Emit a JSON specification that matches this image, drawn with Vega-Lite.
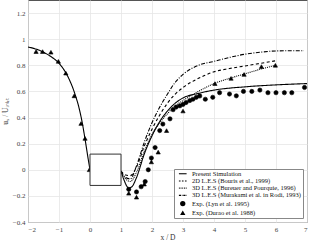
{
  "$schema": "https://vega.github.io/schema/vega-lite/v6.json",
  "width": 279,
  "height": 222,
  "autosize": {"type": "none"},
  "padding": {"left": 28, "top": 0, "right": 4, "bottom": 20},
  "background": "white",
  "config": {
    "font": "Liberation Serif",
    "view": {"stroke": "#555", "strokeWidth": 1},
    "axis": {
      "grid": true, "gridColor": "#e6e6e6", "gridWidth": 0.8,
      "domain": false, "ticks": false,
      "labelFont": "Liberation Serif", "labelFontSize": 7, "labelColor": "#444",
      "titleFont": "Liberation Serif", "titleFontSize": 7.5, "titleFontWeight": "normal", "titleColor": "#333"
    },
    "legend": {
      "labelFont": "Liberation Serif", "labelFontSize": 6.5, "labelColor": "#111"
    }
  },
  "datasets": {
    "body": [{"x": 0, "xe": 1, "y": -0.12, "ye": 0.12}],
    "lines": [
      {"series": "Present Simulation", "part": "up", "x": -2, "y": 0.94},
      {"series": "Present Simulation", "part": "up", "x": -1.75, "y": 0.925},
      {"series": "Present Simulation", "part": "up", "x": -1.5, "y": 0.9},
      {"series": "Present Simulation", "part": "up", "x": -1.25, "y": 0.865},
      {"series": "Present Simulation", "part": "up", "x": -1.0, "y": 0.815},
      {"series": "Present Simulation", "part": "up", "x": -0.75, "y": 0.73},
      {"series": "Present Simulation", "part": "up", "x": -0.5, "y": 0.59},
      {"series": "Present Simulation", "part": "up", "x": -0.35, "y": 0.47},
      {"series": "Present Simulation", "part": "up", "x": -0.25, "y": 0.36},
      {"series": "Present Simulation", "part": "up", "x": -0.15, "y": 0.22},
      {"series": "Present Simulation", "part": "up", "x": -0.05, "y": 0.07},
      {"series": "Present Simulation", "part": "up", "x": 0, "y": 0.0},
      {"series": "Present Simulation", "part": "down", "x": 1.0, "y": -0.01},
      {"series": "Present Simulation", "part": "down", "x": 1.1, "y": -0.08},
      {"series": "Present Simulation", "part": "down", "x": 1.25, "y": -0.14},
      {"series": "Present Simulation", "part": "down", "x": 1.35, "y": -0.13},
      {"series": "Present Simulation", "part": "down", "x": 1.5, "y": -0.06},
      {"series": "Present Simulation", "part": "down", "x": 1.75, "y": 0.12},
      {"series": "Present Simulation", "part": "down", "x": 2.0, "y": 0.26},
      {"series": "Present Simulation", "part": "down", "x": 2.25, "y": 0.37},
      {"series": "Present Simulation", "part": "down", "x": 2.5, "y": 0.45},
      {"series": "Present Simulation", "part": "down", "x": 2.75, "y": 0.51},
      {"series": "Present Simulation", "part": "down", "x": 3.0, "y": 0.55},
      {"series": "Present Simulation", "part": "down", "x": 3.5, "y": 0.585},
      {"series": "Present Simulation", "part": "down", "x": 4.0, "y": 0.61},
      {"series": "Present Simulation", "part": "down", "x": 5.0, "y": 0.635},
      {"series": "Present Simulation", "part": "down", "x": 6.0, "y": 0.65},
      {"series": "Present Simulation", "part": "down", "x": 7.0, "y": 0.66},
      {"series": "2D L.E.S (Bouris et al., 1999)", "part": "down", "x": 1.0, "y": -0.01},
      {"series": "2D L.E.S (Bouris et al., 1999)", "part": "down", "x": 1.15, "y": -0.04},
      {"series": "2D L.E.S (Bouris et al., 1999)", "part": "down", "x": 1.3, "y": -0.045},
      {"series": "2D L.E.S (Bouris et al., 1999)", "part": "down", "x": 1.5, "y": 0.02},
      {"series": "2D L.E.S (Bouris et al., 1999)", "part": "down", "x": 1.75, "y": 0.18},
      {"series": "2D L.E.S (Bouris et al., 1999)", "part": "down", "x": 2.0, "y": 0.31},
      {"series": "2D L.E.S (Bouris et al., 1999)", "part": "down", "x": 2.25, "y": 0.42},
      {"series": "2D L.E.S (Bouris et al., 1999)", "part": "down", "x": 2.5, "y": 0.51},
      {"series": "2D L.E.S (Bouris et al., 1999)", "part": "down", "x": 2.75, "y": 0.58},
      {"series": "2D L.E.S (Bouris et al., 1999)", "part": "down", "x": 3.0, "y": 0.63},
      {"series": "2D L.E.S (Bouris et al., 1999)", "part": "down", "x": 3.5, "y": 0.7},
      {"series": "2D L.E.S (Bouris et al., 1999)", "part": "down", "x": 4.0, "y": 0.75},
      {"series": "2D L.E.S (Bouris et al., 1999)", "part": "down", "x": 4.5, "y": 0.775},
      {"series": "2D L.E.S (Bouris et al., 1999)", "part": "down", "x": 5.0, "y": 0.795},
      {"series": "2D L.E.S (Bouris et al., 1999)", "part": "down", "x": 5.5, "y": 0.815},
      {"series": "2D L.E.S (Bouris et al., 1999)", "part": "down", "x": 6.0, "y": 0.835},
      {"series": "3D L.E.S (Bureuer and Pourquie, 1996)", "part": "down", "x": 1.0, "y": -0.01},
      {"series": "3D L.E.S (Bureuer and Pourquie, 1996)", "part": "down", "x": 1.15, "y": -0.07},
      {"series": "3D L.E.S (Bureuer and Pourquie, 1996)", "part": "down", "x": 1.3, "y": -0.09},
      {"series": "3D L.E.S (Bureuer and Pourquie, 1996)", "part": "down", "x": 1.5, "y": -0.02},
      {"series": "3D L.E.S (Bureuer and Pourquie, 1996)", "part": "down", "x": 1.75, "y": 0.14},
      {"series": "3D L.E.S (Bureuer and Pourquie, 1996)", "part": "down", "x": 2.0, "y": 0.27},
      {"series": "3D L.E.S (Bureuer and Pourquie, 1996)", "part": "down", "x": 2.25, "y": 0.36},
      {"series": "3D L.E.S (Bureuer and Pourquie, 1996)", "part": "down", "x": 2.5, "y": 0.43},
      {"series": "3D L.E.S (Bureuer and Pourquie, 1996)", "part": "down", "x": 2.75, "y": 0.49},
      {"series": "3D L.E.S (Bureuer and Pourquie, 1996)", "part": "down", "x": 3.0, "y": 0.53},
      {"series": "3D L.E.S (Bureuer and Pourquie, 1996)", "part": "down", "x": 3.5, "y": 0.6},
      {"series": "3D L.E.S (Bureuer and Pourquie, 1996)", "part": "down", "x": 4.0, "y": 0.66},
      {"series": "3D L.E.S (Bureuer and Pourquie, 1996)", "part": "down", "x": 4.5, "y": 0.7},
      {"series": "3D L.E.S (Bureuer and Pourquie, 1996)", "part": "down", "x": 5.0, "y": 0.735},
      {"series": "3D L.E.S (Bureuer and Pourquie, 1996)", "part": "down", "x": 5.5, "y": 0.77},
      {"series": "3D L.E.S (Bureuer and Pourquie, 1996)", "part": "down", "x": 6.0, "y": 0.8},
      {"series": "3D L.E.S (Murakami et al. in Rodi, 1993)", "part": "down", "x": 1.0, "y": -0.01},
      {"series": "3D L.E.S (Murakami et al. in Rodi, 1993)", "part": "down", "x": 1.15, "y": -0.06},
      {"series": "3D L.E.S (Murakami et al. in Rodi, 1993)", "part": "down", "x": 1.3, "y": -0.07},
      {"series": "3D L.E.S (Murakami et al. in Rodi, 1993)", "part": "down", "x": 1.5, "y": 0.03},
      {"series": "3D L.E.S (Murakami et al. in Rodi, 1993)", "part": "down", "x": 1.75, "y": 0.21},
      {"series": "3D L.E.S (Murakami et al. in Rodi, 1993)", "part": "down", "x": 2.0, "y": 0.36},
      {"series": "3D L.E.S (Murakami et al. in Rodi, 1993)", "part": "down", "x": 2.25, "y": 0.48},
      {"series": "3D L.E.S (Murakami et al. in Rodi, 1993)", "part": "down", "x": 2.5, "y": 0.58},
      {"series": "3D L.E.S (Murakami et al. in Rodi, 1993)", "part": "down", "x": 2.75, "y": 0.67},
      {"series": "3D L.E.S (Murakami et al. in Rodi, 1993)", "part": "down", "x": 3.0, "y": 0.73},
      {"series": "3D L.E.S (Murakami et al. in Rodi, 1993)", "part": "down", "x": 3.5, "y": 0.8},
      {"series": "3D L.E.S (Murakami et al. in Rodi, 1993)", "part": "down", "x": 4.0, "y": 0.83},
      {"series": "3D L.E.S (Murakami et al. in Rodi, 1993)", "part": "down", "x": 4.5, "y": 0.86},
      {"series": "3D L.E.S (Murakami et al. in Rodi, 1993)", "part": "down", "x": 5.0, "y": 0.885},
      {"series": "3D L.E.S (Murakami et al. in Rodi, 1993)", "part": "down", "x": 5.5, "y": 0.9},
      {"series": "3D L.E.S (Murakami et al. in Rodi, 1993)", "part": "down", "x": 6.0, "y": 0.91},
      {"series": "3D L.E.S (Murakami et al. in Rodi, 1993)", "part": "down", "x": 6.9, "y": 0.912}
    ],
    "pts": [
      {"series": "Exp. (Durao et al. 1988)", "x": -1.74, "y": 0.905},
      {"series": "Exp. (Durao et al. 1988)", "x": -1.53, "y": 0.905},
      {"series": "Exp. (Durao et al. 1988)", "x": -1.26, "y": 0.9},
      {"series": "Exp. (Durao et al. 1988)", "x": -1.02, "y": 0.83},
      {"series": "Exp. (Durao et al. 1988)", "x": -0.78, "y": 0.74},
      {"series": "Exp. (Durao et al. 1988)", "x": -0.51, "y": 0.566},
      {"series": "Exp. (Durao et al. 1988)", "x": -0.29, "y": 0.354},
      {"series": "Exp. (Durao et al. 1988)", "x": -0.16, "y": 0.24},
      {"series": "Exp. (Durao et al. 1988)", "x": -0.02, "y": 0.0},
      {"series": "Exp. (Durao et al. 1988)", "x": 1.25, "y": -0.18},
      {"series": "Exp. (Durao et al. 1988)", "x": 1.5, "y": -0.21},
      {"series": "Exp. (Durao et al. 1988)", "x": 1.75, "y": -0.11},
      {"series": "Exp. (Durao et al. 1988)", "x": 1.98, "y": 0.06},
      {"series": "Exp. (Durao et al. 1988)", "x": 2.2, "y": 0.135},
      {"series": "Exp. (Durao et al. 1988)", "x": 2.47, "y": 0.3},
      {"series": "Exp. (Durao et al. 1988)", "x": 3.0, "y": 0.45},
      {"series": "Exp. (Durao et al. 1988)", "x": 4.03, "y": 0.66},
      {"series": "Exp. (Durao et al. 1988)", "x": 4.55, "y": 0.7},
      {"series": "Exp. (Durao et al. 1988)", "x": 4.97, "y": 0.73},
      {"series": "Exp. (Durao et al. 1988)", "x": 5.53, "y": 0.79},
      {"series": "Exp. (Durao et al. 1988)", "x": 5.98, "y": 0.8},
      {"series": "Exp. (Lyn et al. 1995)", "x": 1.25, "y": -0.15},
      {"series": "Exp. (Lyn et al. 1995)", "x": 1.5, "y": -0.17},
      {"series": "Exp. (Lyn et al. 1995)", "x": 1.65, "y": -0.13},
      {"series": "Exp. (Lyn et al. 1995)", "x": 1.78, "y": -0.09},
      {"series": "Exp. (Lyn et al. 1995)", "x": 1.88, "y": 0.0},
      {"series": "Exp. (Lyn et al. 1995)", "x": 1.98, "y": 0.09},
      {"series": "Exp. (Lyn et al. 1995)", "x": 2.1, "y": 0.17},
      {"series": "Exp. (Lyn et al. 1995)", "x": 2.25, "y": 0.3},
      {"series": "Exp. (Lyn et al. 1995)", "x": 2.35, "y": 0.35},
      {"series": "Exp. (Lyn et al. 1995)", "x": 2.58, "y": 0.39},
      {"series": "Exp. (Lyn et al. 1995)", "x": 2.68, "y": 0.46},
      {"series": "Exp. (Lyn et al. 1995)", "x": 2.78, "y": 0.48},
      {"series": "Exp. (Lyn et al. 1995)", "x": 2.9, "y": 0.49},
      {"series": "Exp. (Lyn et al. 1995)", "x": 3.0, "y": 0.5},
      {"series": "Exp. (Lyn et al. 1995)", "x": 3.1, "y": 0.515},
      {"series": "Exp. (Lyn et al. 1995)", "x": 3.22, "y": 0.53},
      {"series": "Exp. (Lyn et al. 1995)", "x": 3.32, "y": 0.54},
      {"series": "Exp. (Lyn et al. 1995)", "x": 3.43, "y": 0.555},
      {"series": "Exp. (Lyn et al. 1995)", "x": 3.54, "y": 0.565},
      {"series": "Exp. (Lyn et al. 1995)", "x": 3.72, "y": 0.54},
      {"series": "Exp. (Lyn et al. 1995)", "x": 3.96, "y": 0.555},
      {"series": "Exp. (Lyn et al. 1995)", "x": 4.18, "y": 0.59},
      {"series": "Exp. (Lyn et al. 1995)", "x": 4.5, "y": 0.58},
      {"series": "Exp. (Lyn et al. 1995)", "x": 4.72, "y": 0.566},
      {"series": "Exp. (Lyn et al. 1995)", "x": 4.95, "y": 0.6},
      {"series": "Exp. (Lyn et al. 1995)", "x": 5.22, "y": 0.6},
      {"series": "Exp. (Lyn et al. 1995)", "x": 5.48, "y": 0.61},
      {"series": "Exp. (Lyn et al. 1995)", "x": 5.74, "y": 0.59},
      {"series": "Exp. (Lyn et al. 1995)", "x": 6.0, "y": 0.59},
      {"series": "Exp. (Lyn et al. 1995)", "x": 6.27, "y": 0.59},
      {"series": "Exp. (Lyn et al. 1995)", "x": 6.51, "y": 0.59},
      {"series": "Exp. (Lyn et al. 1995)", "x": 6.92, "y": 0.63}
    ]
  },
  "encoding": {
    "x": {"field": "x", "type": "quantitative", "scale": {"domain": [-2, 7], "nice": false},
      "axis": {"values": [-2, -1, 0, 1, 2, 3, 4, 5, 6, 7], "title": "x / D", "labelPadding": 3, "titlePadding": 1}},
    "y": {"field": "y", "type": "quantitative", "scale": {"domain": [-0.4, 1.3], "nice": false, "zero": false},
      "axis": {"values": [-0.4, -0.2, 0, 0.2, 0.4, 0.6, 0.8, 1, 1.2], "title": "uₓ / Uᵢₙₗₑₜ", "labelPadding": 3, "titlePadding": 3, "format": "~g"}}
  },
  "layer": [
    {
      "data": {"name": "lines"},
      "mark": {"type": "line", "strokeWidth": 1.1, "interpolate": "monotone", "color": "#000"},
      "encoding": {
        "detail": {"field": "part"},
        "strokeDash": {
          "field": "series", "type": "nominal",
          "scale": {
            "domain": ["Present Simulation", "2D L.E.S (Bouris et al., 1999)", "3D L.E.S (Bureuer and Pourquie, 1996)", "3D L.E.S (Murakami et al. in Rodi, 1993)", "Exp. (Lyn et al. 1995)", "Exp. (Durao et al. 1988)"],
            "range": [[1, 0], [3, 2.5], [1, 1], [4, 1.5, 1, 1.5], [1, 0], [1, 0]]
          },
          "legend": {
            "title": null, "orient": "bottom-right", "offset": 4,
            "fillColor": "white", "strokeColor": "#888", "padding": 1.5,
            "symbolSize": 28, "symbolOffset": 4, "labelOffset": 6, "rowPadding": 0.2,
            "symbolStrokeWidth": 0.6, "symbolFillColor": "#000", "symbolStrokeColor": "#000"
          }
        }
      }
    },
    {
      "data": {"name": "pts"},
      "mark": {"type": "point", "filled": true, "opacity": 1, "size": 18, "fill": "#000", "stroke": "#000", "strokeWidth": 0.6},
      "encoding": {
        "shape": {
          "field": "series", "type": "nominal",
          "scale": {
            "domain": ["Present Simulation", "2D L.E.S (Bouris et al., 1999)", "3D L.E.S (Bureuer and Pourquie, 1996)", "3D L.E.S (Murakami et al. in Rodi, 1993)", "Exp. (Lyn et al. 1995)", "Exp. (Durao et al. 1988)"],
            "range": [
              "M-1.45,-0.2H1.45V0.2H-1.45Z",
              "M-1.45,-0.2H-0.83V0.2H-1.45Z M-0.31,-0.2H0.31V0.2H-0.31Z M0.83,-0.2H1.45V0.2H0.83Z",
              "M-1.45,-0.2H-1.13V0.2H-1.45Z M-0.81,-0.2H-0.49V0.2H-0.81Z M-0.16,-0.2H0.16V0.2H-0.16Z M0.48,-0.2H0.8V0.2H0.48Z M1.13,-0.2H1.45V0.2H1.13Z",
              "M-1.45,-0.2H-0.6V0.2H-1.45Z M-0.3,-0.2H-0.1V0.2H-0.3Z M0.2,-0.2H1.05V0.2H0.2Z M1.3,-0.2H1.45V0.2H1.3Z",
              "circle",
              "triangle-up"
            ]
          },
          "legend": {
            "title": null, "orient": "bottom-right", "offset": 4,
            "fillColor": "white", "strokeColor": "#888", "padding": 1.5,
            "symbolSize": 28, "symbolOffset": 4, "labelOffset": 6, "rowPadding": 0.2,
            "symbolStrokeWidth": 0.6, "symbolFillColor": "#000", "symbolStrokeColor": "#000"
          }
        }
      }
    },
    {
      "data": {"name": "body"},
      "mark": {"type": "rect", "fill": "white", "stroke": "#333", "strokeWidth": 1},
      "encoding": {
        "x2": {"field": "xe"},
        "y2": {"field": "ye"}
      }
    }
  ]
}
